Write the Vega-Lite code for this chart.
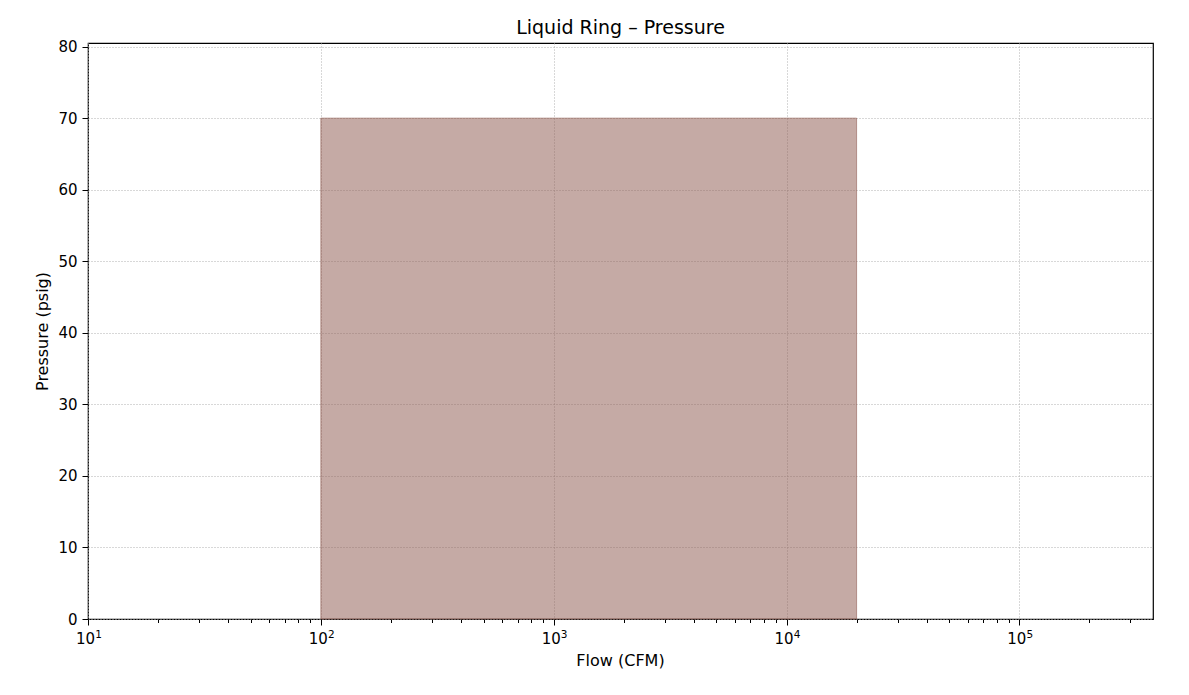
{
  "$schema": "https://vega.github.io/schema/vega-lite/v6.json",
  "width": 1065,
  "height": 576,
  "autosize": "none",
  "padding": {"left": 88, "top": 43, "right": 36, "bottom": 76},
  "background": "white",
  "config": {
    "font": "DejaVu Sans",
    "view": {"stroke": "black", "strokeWidth": 1.2},
    "axis": {
      "domain": false,
      "tickColor": "black",
      "tickWidth": 1,
      "labelColor": "black",
      "titleColor": "black",
      "labelFont": "DejaVu Sans",
      "titleFont": "DejaVu Sans",
      "labelFontSize": 15,
      "titleFontSize": 16,
      "titleFontWeight": "normal",
      "gridColor": "#b0b0b0",
      "gridDash": [1, 2],
      "gridWidth": 1
    }
  },
  "title": {
    "text": "Liquid Ring – Pressure",
    "font": "DejaVu Sans",
    "fontSize": 19,
    "fontWeight": "normal",
    "color": "black",
    "anchor": "middle",
    "offset": 2
  },
  "data": {"values": [{"flow_min": 100, "flow_max": 20000, "p_min": 0, "p_max": 70}]},
  "resolve": {"axis": {"x": "independent"}},
  "layer": [
    {
      "mark": {"type": "rect", "fill": "#8c564b", "fillOpacity": 0.5, "stroke": "#8c564b", "strokeOpacity": 0.55, "strokeWidth": 1},
      "encoding": {
        "x": {
          "field": "flow_min",
          "type": "quantitative",
          "scale": {"type": "log", "domain": [10, 375000], "nice": false},
          "axis": {
            "orient": "bottom",
            "title": "Flow (CFM)",
            "titleX": 532,
            "titleY": 46,
            "titleBaseline": "alphabetic",
            "values": [10, 20, 30, 40, 50, 60, 70, 80, 90, 100, 200, 300, 400, 500, 600, 700, 800, 900, 1000, 2000, 3000, 4000, 5000, 6000, 7000, 8000, 9000, 10000, 20000, 30000, 40000, 50000, 60000, 70000, 80000, 90000, 100000, 200000, 300000],
            "labelExpr": "indexof([10,100,1000,10000,100000], datum.value) >= 0 ? '10' : ''",
            "labelBaseline": "alphabetic",
            "labelPadding": 18,
            "labelOffset": -3,
            "labelFlush": false,
            "labelOverlap": false,
            "tickSize": {"condition": {"test": "indexof([10,100,1000,10000,100000], datum.value) >= 0", "value": 6}, "value": 3.5},
            "gridOpacity": {"condition": {"test": "indexof([10,100,1000,10000,100000], datum.value) >= 0", "value": 1}, "value": 0}
          }
        },
        "x2": {"field": "flow_max"},
        "y": {
          "field": "p_min",
          "type": "quantitative",
          "scale": {"domain": [0, 80.5], "nice": false},
          "axis": {
            "title": "Pressure (psig)",
            "titleX": -41,
            "titleY": 288,
            "titleBaseline": "alphabetic",
            "titleAngle": -90,
            "values": [0, 10, 20, 30, 40, 50, 60, 70, 80],
            "tickSize": 6,
            "labelPadding": 5,
            "labelFlush": false
          }
        },
        "y2": {"field": "p_max"}
      }
    },
    {
      "mark": {"type": "rule", "opacity": 0},
      "encoding": {
        "x": {
          "field": "flow_min",
          "type": "quantitative",
          "axis": {
            "orient": "bottom",
            "title": null,
            "grid": false,
            "ticks": false,
            "values": [10, 100, 1000, 10000, 100000],
            "labelExpr": "datum.value == 10 ? '1' : datum.value == 100 ? '2' : datum.value == 1000 ? '3' : datum.value == 10000 ? '4' : '5'",
            "labelFontSize": 10.5,
            "labelBaseline": "alphabetic",
            "labelPadding": 18,
            "labelOffset": 10,
            "labelFlush": false,
            "labelOverlap": false
          }
        }
      }
    }
  ]
}
